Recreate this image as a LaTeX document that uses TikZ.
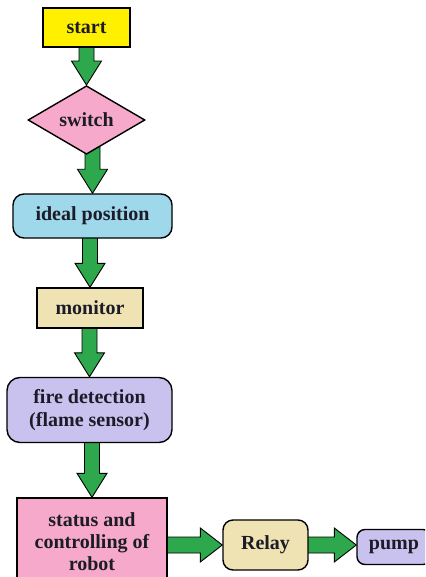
\documentclass[tikz,border=0pt]{standalone}
\usepackage{fontspec}
\setmainfont{Liberation Serif}
\usetikzlibrary{shapes.geometric,calc,backgrounds}

\definecolor{ink}{HTML}{1C1C28}
\definecolor{startfill}{HTML}{FFF000}
\definecolor{pinkfill}{HTML}{F6A9CB}
\definecolor{bluefill}{HTML}{9ED8EA}
\definecolor{beigefill}{HTML}{EFE3B4}
\definecolor{lavfill}{HTML}{C9C2EE}
\definecolor{arrowgreen}{HTML}{2EA84C}

\tikzset{
  box/.style={draw=black, line width=1.4pt, text=ink, align=center,
    inner sep=0pt, font=\fontsize{20}{23}\selectfont\bfseries},
  blockarrow/.style={fill=arrowgreen, draw=black, line width=0.9pt, line join=miter},
}

% thick block arrow pointing down, from under the bottom of #1 to the top of #2
\newcommand\flowdown[2]{%
  \draw[blockarrow] let \p1=(#1.south), \p2=(#2.north) in
    (\x2-7.5pt,\y1+8pt) -- (\x2-7.5pt,\y2+24pt) -- (\x2-15pt,\y2+24pt) -- (\x2,\y2)
    -- (\x2+15pt,\y2+24pt) -- (\x2+7.5pt,\y2+24pt) -- (\x2+7.5pt,\y1+8pt) -- cycle;}

% thick block arrow pointing right at height #3, from under the right side of #1 to the left side of #2
\newcommand\flowright[3]{%
  \draw[blockarrow] let \p1=(#1.east), \p2=(#2.west) in
    (\x1-8pt,#3+8pt) -- (\x2-22pt,#3+8pt) -- (\x2-22pt,#3+17pt) -- (\x2,#3)
    -- (\x2-22pt,#3-17pt) -- (\x2-22pt,#3-8pt) -- (\x1-8pt,#3-8pt) -- cycle;}

\begin{document}
\begin{tikzpicture}[x=1pt,y=1pt]
  \useasboundingbox (0,0) rectangle (425,-577);
  \clip (0,0) rectangle (425,-577);

  \node[box, fill=startfill, minimum width=87pt, minimum height=39pt]
    (start) at (86.5,-27.5) {start};
  \node[box, diamond, fill=pinkfill, minimum width=117pt, minimum height=50pt]
    (switch) at (86.5,-120) {switch};
  \node[box, fill=bluefill, rounded corners=11pt, minimum width=159pt, minimum height=44pt]
    (ideal) at (92.5,-216) {ideal position};
  \node[box, fill=beigefill, minimum width=106pt, minimum height=40pt]
    (monitor) at (90,-308) {monitor};
  \node[box, fill=lavfill, rounded corners=13pt, minimum width=165pt, minimum height=65pt]
    (fire) at (89.5,-410) {fire detection\\(flame sensor)};
  \node[box, fill=pinkfill, minimum width=150pt, minimum height=88pt,
        font=\fontsize{20}{22}\selectfont\bfseries]
    (status) at (92,-542) {status and\\controlling of\\robot};
  \node[box, fill=beigefill, rounded corners=10pt, minimum width=85pt, minimum height=50pt]
    (relay) at (265.5,-545) {Relay};
  \node[box, fill=lavfill, rounded corners=8pt, minimum width=74pt, minimum height=35pt]
    (pump) at (394,-547) {pump};

  \begin{scope}[on background layer]
    \fill[white] (0,0) rectangle (425,-577);
    \flowdown{start}{switch}
    \flowdown{switch}{ideal}
    \flowdown{ideal}{monitor}
    \flowdown{monitor}{fire}
    \flowdown{fire}{status}
    \flowright{status}{relay}{-545pt}
    \flowright{relay}{pump}{-545pt}
  \end{scope}
\end{tikzpicture}
\end{document}
